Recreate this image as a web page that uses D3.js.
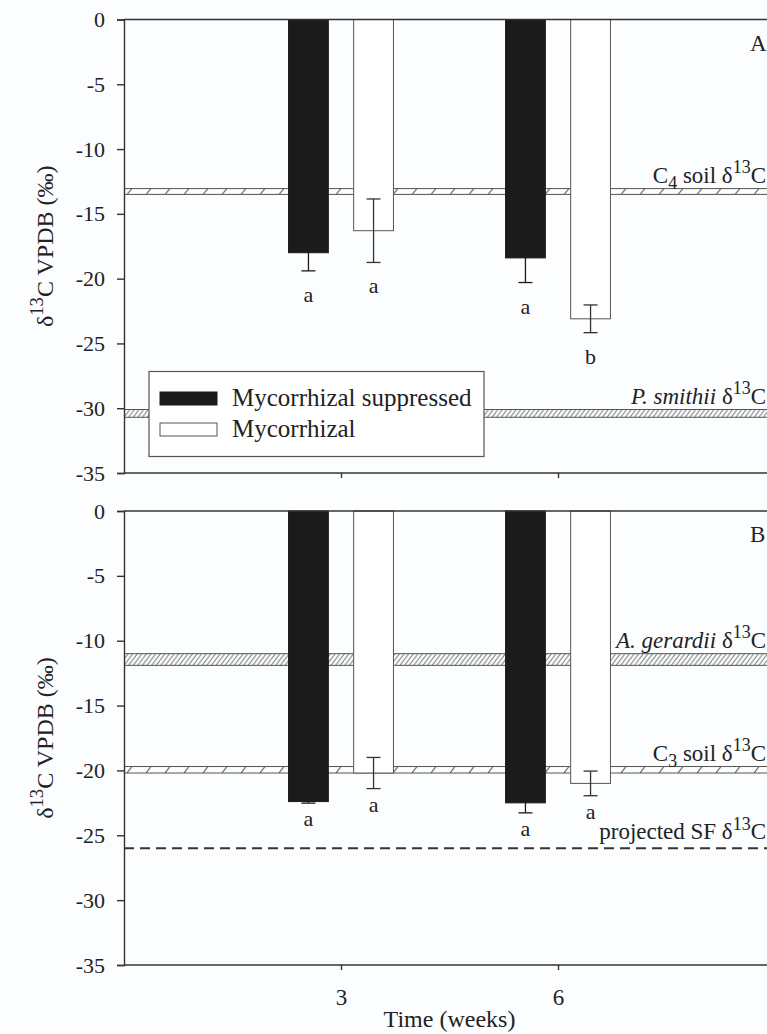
<!DOCTYPE html>
<html>
<head>
<meta charset="utf-8">
<script src="https://cdn.jsdelivr.net/npm/d3@7"></script>
<style>
  html, body { margin: 0; padding: 0; background: #fbfdfe; }
  svg { display: block; font-family: "Liberation Serif", "Times New Roman", serif; }
</style>
</head>
<body>
<svg id="chart" width="767" height="1034"></svg>
<script>
// ---- data ----
const weeks = [3, 6];
const seriesNames = ["Mycorrhizal suppressed", "Mycorrhizal"];
const yTicks = [0, -5, -10, -15, -20, -25, -30, -35];

// Panel A: delta 13C means and standard errors
const aSuppressed = [-18.0, -18.4];
const aSuppressedSE = [1.4, 1.9];
const aMycorrhizal = [-16.3, -23.1];
const aMycorrhizalSE = [2.45, 1.07];
const aLettersSuppressed = ["a", "a"];
const aLettersMycorrhizal = ["a", "b"];

// Panel B
const bSuppressed = [-22.4, -22.5];
const bSuppressedSE = [0.12, 0.77];
const bMycorrhizal = [-20.2, -21.0];
const bMycorrhizalSE = [1.2, 0.95];
const bLettersSuppressed = ["a", "a"];
const bLettersMycorrhizal = ["a", "a"];

// Reference signatures: [upper, lower] bounds
const aC4Soil = [-13.05, -13.5];
const aSmithii = [-30.1, -30.7];
const bGerardii = [-11.0, -11.9];
const bC3Soil = [-19.7, -20.2];
const bProjectedSF = -26;

// ---- layout ----
const svg = d3.select("#chart");
const W = 767;
const x = d3.scaleLinear().domain([0, 9]).range([124, 775]);
const barW = x(0.55) - x(0);
const barOffset = [-0.45, 0.45];
const ink = "#333";
const serif = "Liberation Serif, Times New Roman, serif";

const panels = [
  {
    id: "A", top: 19.5, bottom: 473, letterGap: 31,
    series: [
      { vals: aSuppressed, se: aSuppressedSE, letters: aLettersSuppressed },
      { vals: aMycorrhizal, se: aMycorrhizalSE, letters: aLettersMycorrhizal }
    ],
    bands: [
      { range: aC4Soil, dense: false, label: [["C"], ["4", "sub"], [" soil δ"], ["13", "sup"], ["C"]] },
      { range: aSmithii, dense: true, label: [["P. smithii", "it"], [" δ"], ["13", "sup"], ["C"]] }
    ],
    dashed: null,
    legend: true,
    xLabels: false
  },
  {
    id: "B", top: 511, bottom: 965, letterGap: 23,
    series: [
      { vals: bSuppressed, se: bSuppressedSE, letters: bLettersSuppressed },
      { vals: bMycorrhizal, se: bMycorrhizalSE, letters: bLettersMycorrhizal }
    ],
    bands: [
      { range: bGerardii, dense: true, label: [["A. gerardii", "it"], [" δ"], ["13", "sup"], ["C"]] },
      { range: bC3Soil, dense: false, label: [["C"], ["3", "sub"], [" soil δ"], ["13", "sup"], ["C"]] }
    ],
    dashed: { value: bProjectedSF, label: [["projected SF δ"], ["13", "sup"], ["C"]] },
    legend: false,
    xLabels: true
  }
];

// write mixed text with sub/superscripts and italics
function richText(textSel, parts, size) {
  let shift = 0;
  parts.forEach(([t, kind]) => {
    const ts = textSel.append("tspan").text(t);
    let target = 0;
    if (kind === "sup") { target = -size * 0.42; ts.attr("font-size", size * 0.78); }
    else if (kind === "sub") { target = size * 0.28; ts.attr("font-size", size * 0.78); }
    else if (kind === "it") { ts.attr("font-style", "italic"); }
    if (target !== shift) { ts.attr("dy", target - shift); shift = target; }
  });
}

const defs = svg.append("defs");
let patId = 0;

panels.forEach(p => {
  const y = d3.scaleLinear().domain([0, -35]).range([p.top, p.bottom]);
  const g = svg.append("g");

  // hatched reference bands
  p.bands.forEach(b => {
    const y0 = y(b.range[0]), y1 = y(b.range[1]);
    const h = y1 - y0;
    const id = "hatch" + (patId++);
    const step = b.dense ? 4.6 : 19;
    const pat = defs.append("pattern").attr("id", id)
      .attr("patternUnits", "userSpaceOnUse")
      .attr("x", x(0)).attr("y", y0).attr("width", step).attr("height", h);
    const lean = b.dense ? h * 0.75 : 5;
    [-2, -1, 0, 1, 2].forEach(k => {
      const sx = (b.dense ? 0 : 3) + k * step;
      pat.append("line")
        .attr("x1", sx).attr("y1", h).attr("x2", sx + lean).attr("y2", 0)
        .attr("stroke", "#444").attr("stroke-width", b.dense ? 0.9 : 1);
    });
    g.append("rect")
      .attr("x", x(0)).attr("y", y0).attr("width", W - x(0)).attr("height", h)
      .attr("fill", `url(#${id})`);
    g.append("line").attr("x1", x(0)).attr("x2", W).attr("y1", y0).attr("y2", y0)
      .attr("stroke", "#555").attr("stroke-width", 1);
    g.append("line").attr("x1", x(0)).attr("x2", W).attr("y1", y1).attr("y2", y1)
      .attr("stroke", "#555").attr("stroke-width", 1);
    const lab = g.append("text")
      .attr("x", 766).attr("y", y0 - 6)
      .attr("text-anchor", "end").attr("font-size", 23).attr("fill", "#222");
    richText(lab, b.label, 23);
  });

  if (p.dashed) {
    const yd = y(p.dashed.value);
    g.append("line").attr("x1", x(0)).attr("x2", W).attr("y1", yd).attr("y2", yd)
      .attr("stroke", "#333").attr("stroke-width", 2).attr("stroke-dasharray", "10,6");
    const lab = g.append("text")
      .attr("x", 766).attr("y", yd - 9)
      .attr("text-anchor", "end").attr("font-size", 23).attr("fill", "#222");
    richText(lab, p.dashed.label, 23);
  }

  // bars, error bars and significance letters
  p.series.forEach((s, si) => {
    const dark = si === 0;
    weeks.forEach((wk, i) => {
      const cx = x(wk + barOffset[si]);
      const v = s.vals[i], e = s.se[i];
      g.append("rect")
        .attr("x", cx - barW / 2).attr("y", y(0))
        .attr("width", barW).attr("height", y(v) - y(0))
        .attr("fill", dark ? "#1b1b1b" : "#ffffff")
        .attr("stroke", dark ? "#1b1b1b" : "#555").attr("stroke-width", 1);
      const eg = g.append("g").attr("stroke", dark ? "#1b1b1b" : "#333").attr("stroke-width", 1.3);
      eg.append("line").attr("x1", cx).attr("x2", cx).attr("y1", y(v + e)).attr("y2", y(v - e));
      eg.append("line").attr("x1", cx - 7).attr("x2", cx + 7).attr("y1", y(v + e)).attr("y2", y(v + e));
      eg.append("line").attr("x1", cx - 7).attr("x2", cx + 7).attr("y1", y(v - e)).attr("y2", y(v - e));
      g.append("text")
        .attr("x", cx).attr("y", y(v - e) + p.letterGap)
        .attr("text-anchor", "middle").attr("font-size", 22).attr("fill", "#222")
        .text(s.letters[i]);
    });
  });

  // frame line at zero
  g.append("line").attr("x1", x(0)).attr("x2", W).attr("y1", y(0)).attr("y2", y(0))
    .attr("stroke", ink).attr("stroke-width", 1.4);

  // y axis
  const yAxis = g.append("g").attr("transform", `translate(${x(0)},0)`)
    .call(d3.axisLeft(y).tickValues(yTicks).tickSize(7).tickPadding(12)
      .tickFormat(d => d === 0 ? "0" : "-" + Math.abs(d)));
  yAxis.select(".domain").attr("stroke", ink).attr("stroke-width", 1.4);
  yAxis.selectAll(".tick line").attr("stroke", ink).attr("stroke-width", 1.4);
  yAxis.selectAll("text").attr("font-size", 22).attr("fill", "#222").attr("font-family", serif);

  // x axis
  const xAxis = g.append("g").attr("transform", `translate(0,${y(-35)})`)
    .call(d3.axisBottom(x).tickValues(weeks).tickSize(5).tickPadding(19).tickSizeOuter(0)
      .tickFormat(p.xLabels ? d3.format("d") : () => ""));
  xAxis.select(".domain").attr("stroke", ink).attr("stroke-width", 1.4)
    .attr("d", `M${x(0)},0H${W + 10}`);
  xAxis.selectAll(".tick line").attr("stroke", ink).attr("stroke-width", 1.4);
  xAxis.selectAll("text").attr("font-size", 23).attr("fill", "#222").attr("font-family", serif);

  // y title
  const yt = g.append("text")
    .attr("transform", `translate(53,${(p.top + p.bottom) / 2}) rotate(-90)`)
    .attr("text-anchor", "middle").attr("font-size", 24).attr("fill", "#222");
  richText(yt, [["δ"], ["13", "sup"], ["C VPDB (‰)"]], 24);

  // panel letter
  g.append("text").attr("x", 750).attr("y", p.top + 31)
    .attr("font-size", 23).attr("fill", "#222").text(p.id);

  // legend
  if (p.legend) {
    const lg = g.append("g");
    lg.append("rect").attr("x", 149).attr("y", 371.5).attr("width", 335).attr("height", 85)
      .attr("fill", "#ffffff").attr("stroke", "#555").attr("stroke-width", 1.2);
    seriesNames.forEach((name, i) => {
      const yy = 392 + i * 31;
      lg.append("rect").attr("x", 160).attr("y", yy).attr("width", 57).attr("height", 13)
        .attr("fill", i === 0 ? "#1b1b1b" : "#ffffff")
        .attr("stroke", i === 0 ? "#1b1b1b" : "#555").attr("stroke-width", 1);
      lg.append("text").attr("x", 232).attr("y", yy + 14)
        .attr("font-size", 25).attr("fill", "#222").text(name);
    });
  }

  if (p.xLabels) {
    g.append("text").attr("x", (x(0) + x(9)) / 2).attr("y", 1027)
      .attr("text-anchor", "middle").attr("font-size", 24).attr("fill", "#222")
      .text("Time (weeks)");
  }
});
</script>
</body>
</html>
